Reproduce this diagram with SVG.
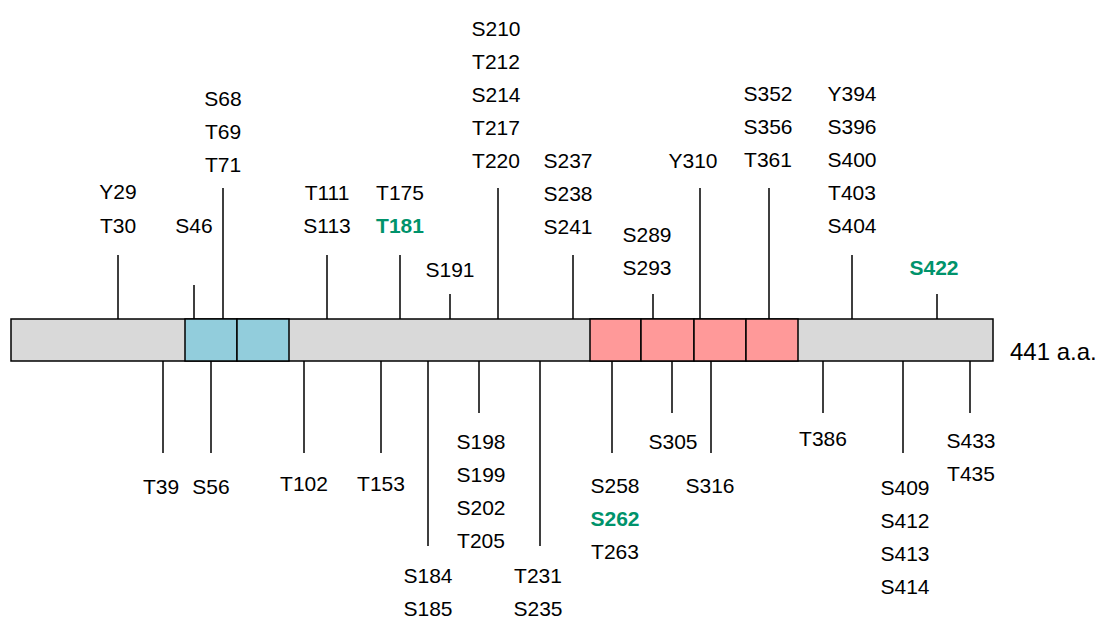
<svg xmlns="http://www.w3.org/2000/svg" width="1119" height="637" viewBox="0 0 1119 637">
<style>
text{font-family:"Liberation Sans",Arial,sans-serif;font-size:21px;fill:#000;text-anchor:middle}
.g{fill:#00936b;font-weight:bold}
.l{stroke:#000;stroke-width:1.5}
.b{stroke:#000;stroke-width:1.5}
</style>
<rect width="1119" height="637" fill="#fff"/>
<g id="protein">
<rect class="b" x="11" y="319" width="982" height="42" fill="#d9d9d9"/>
<rect class="b" x="185" y="319" width="52" height="42" fill="#92cddc"/>
<rect class="b" x="237" y="319" width="52" height="42" fill="#92cddc"/>
<rect class="b" x="590" y="319" width="51" height="42" fill="#ff9999"/>
<rect class="b" x="641" y="319" width="53" height="42" fill="#ff9999"/>
<rect class="b" x="694" y="319" width="52" height="42" fill="#ff9999"/>
<rect class="b" x="746" y="319" width="52" height="42" fill="#ff9999"/>
<text x="1010" y="360" style="text-anchor:start;font-size:24px">441 a.a.</text>
</g>
<g id="connectors">
<path class="l" d="M118 255V319M194 285V319M223 188V319M327 255V319M400 255V319M450 294V319M498 188V319M573 255V319M653 294V319M700 188V319M769 188V319M852 255V319M937 294V319
M163 361V453M211 361V453M304 361V453M381 361V453M428 361V546M479 361V413M540 361V546M612 361V453M672 361V413M711 361V453M823 361V413M903 361V453M970 361V413"/>
</g>
<g id="labels-top">
<text x="118" y="199">Y29</text><text x="118" y="233">T30</text>
<text x="194" y="233">S46</text>
<text x="223" y="106">S68</text><text x="223" y="139">T69</text><text x="223" y="172">T71</text>
<text x="327" y="200">T111</text><text x="327" y="233">S113</text>
<text x="400" y="200">T175</text><text x="400" y="233" class="g">T181</text>
<text x="450" y="277">S191</text>
<text x="496" y="36">S210</text><text x="496" y="69">T212</text><text x="496" y="102">S214</text><text x="496" y="135">T217</text><text x="496" y="168">T220</text>
<text x="568" y="168">S237</text><text x="568" y="201">S238</text><text x="568" y="234">S241</text>
<text x="647" y="242">S289</text><text x="647" y="275">S293</text>
<text x="693" y="168">Y310</text>
<text x="768" y="101">S352</text><text x="768" y="134">S356</text><text x="768" y="167">T361</text>
<text x="852" y="101">Y394</text><text x="852" y="134">S396</text><text x="852" y="167">S400</text><text x="852" y="200">T403</text><text x="852" y="233">S404</text>
<text x="934" y="275" class="g">S422</text>
</g>
<g id="labels-bottom">
<text x="161" y="494">T39</text>
<text x="211" y="494">S56</text>
<text x="304" y="491">T102</text>
<text x="381" y="491">T153</text>
<text x="428" y="583">S184</text><text x="428" y="616">S185</text>
<text x="481" y="449">S198</text><text x="481" y="482">S199</text><text x="481" y="515">S202</text><text x="481" y="548">T205</text>
<text x="538" y="583">T231</text><text x="538" y="616">S235</text>
<text x="615" y="493">S258</text><text x="615" y="526" class="g">S262</text><text x="615" y="559">T263</text>
<text x="673" y="449">S305</text>
<text x="710" y="493">S316</text>
<text x="823" y="446">T386</text>
<text x="905" y="495">S409</text><text x="905" y="528">S412</text><text x="905" y="561">S413</text><text x="905" y="594">S414</text>
<text x="971" y="448">S433</text><text x="971" y="481">T435</text>
</g>
</svg>
